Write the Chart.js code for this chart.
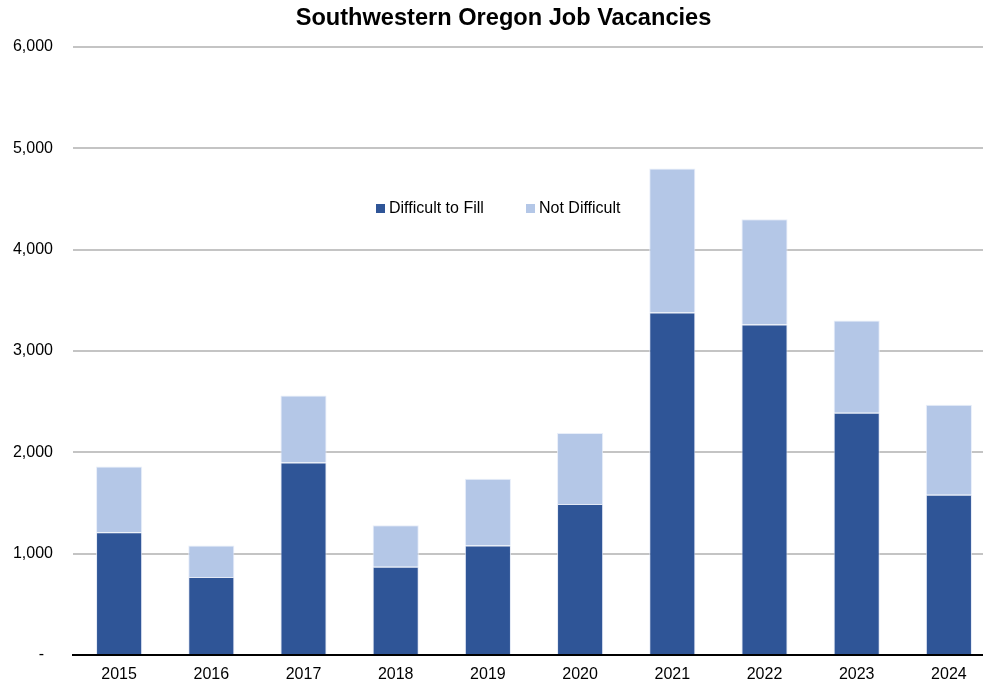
<!DOCTYPE html>
<html>
<head>
<meta charset="utf-8">
<script src="https://cdn.jsdelivr.net/npm/chart.js@4.4.1/dist/chart.umd.min.js"></script>
<style>
  html, body { margin: 0; padding: 0; overflow: hidden; background: #fff; }
  #wrap { width: 995px; height: 683px; }
</style>
</head>
<body>
<div id="wrap"><canvas id="chart" width="995" height="683"></canvas></div>
<script>
const years = ['2015', '2016', '2017', '2018', '2019', '2020', '2021', '2022', '2023', '2024'];
const difficultToFill = [1210, 770, 1900, 870, 1080, 1490, 3380, 3260, 2390, 1580];
const notDifficult = [650, 310, 660, 410, 660, 700, 1420, 1040, 910, 890];
const yTicks = [0, 1000, 2000, 3000, 4000, 5000, 6000];

const FONT = 'Arial, "Liberation Sans", sans-serif';

// legend sits inside the plot area, like the spreadsheet original
const insideLegend = {
  id: 'insideLegend',
  afterDraw(chart) {
    const ctx = chart.ctx;
    const items = chart.data.datasets.map((ds, i) => ({
      text: ds.label, color: ds.backgroundColor, x: i === 0 ? 376 : 526
    }));
    ctx.save();
    ctx.font = '16px ' + FONT;
    ctx.textBaseline = 'middle';
    ctx.textAlign = 'left';
    items.forEach(it => {
      ctx.fillStyle = it.color;
      ctx.fillRect(it.x, 204, 9, 9);
      ctx.fillStyle = '#000';
      ctx.fillText(it.text, it.x + 13, 209);
    });
    ctx.restore();
  }
};

new Chart(document.getElementById('chart'), {
  type: 'bar',
  data: {
    labels: years,
    datasets: [
      {
        label: 'Difficult to Fill',
        data: difficultToFill,
        backgroundColor: '#2F5597',
        borderColor: 'rgba(220,228,242,0.8)',
        borderWidth: 1,
        barPercentage: 0.5,
        categoryPercentage: 1,
      },
      {
        label: 'Not Difficult',
        data: notDifficult,
        backgroundColor: '#B4C7E7',
        borderColor: 'rgba(230,236,248,0.9)',
        borderWidth: 1,
        barPercentage: 0.5,
        categoryPercentage: 1,
      },
    ],
  },
  options: {
    responsive: false,
    animation: false,
    layout: { padding: { left: 12, right: 0, top: 4, bottom: 0 } },
    plugins: {
      legend: { display: false },
      tooltip: { enabled: false },
      title: {
        display: true,
        text: 'Southwestern Oregon Job Vacancies',
        color: '#000',
        font: { family: FONT, size: 23.6, weight: 'bold' },
        padding: { top: 0, bottom: 14.5 },
      },
    },
    scales: {
      x: {
        stacked: true,
        grid: { display: false, drawTicks: false },
        border: { display: true, color: '#000', width: 2 },
        ticks: { color: '#000', font: { family: FONT, size: 16 }, padding: 9.5 },
        afterFit: axis => { axis.height = 28; },
      },
      y: {
        stacked: true,
        min: 0,
        max: 6000,
        afterBuildTicks: axis => { axis.ticks = yTicks.map(v => ({ value: v })); },
        afterFit: axis => {
          axis.width = 61;
          axis.paddingTop = 10;
          axis.paddingBottom = 10;
        },
        grid: { color: '#c4c4c4', lineWidth: 2, drawTicks: false },
        border: { display: false },
        ticks: {
          color: '#000',
          font: { family: FONT, size: 16 },
          padding: 20,
          callback: v => v === 0 ? '-  ' : v.toLocaleString('en-US'),
        },
      },
    },
  },
  plugins: [insideLegend],
});
</script>
</body>
</html>
